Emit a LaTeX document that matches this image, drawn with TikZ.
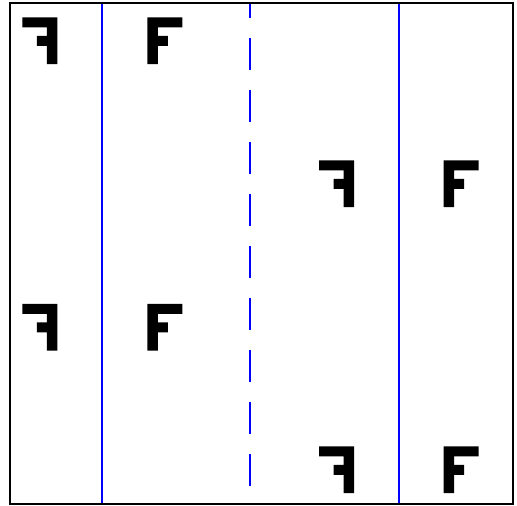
\documentclass[tikz,border=0pt]{standalone}
\tikzset{
  glyphF/.pic={
    \fill[black] (0,0) -- (35,0) -- (35,10) -- (10.5,10) -- (10.5,18.5) -- (20.5,18.5)
      -- (20.5,28.5) -- (10.5,28.5) -- (10.5,46.7) -- (0,46.7) -- cycle;
  },
  mirrorF/.pic={
    \begin{scope}[xshift=35, xscale=-1]
      \fill[black] (0,0) -- (35,0) -- (35,10) -- (10.5,10) -- (10.5,18.5) -- (20.5,18.5)
        -- (20.5,28.5) -- (10.5,28.5) -- (10.5,46.7) -- (0,46.7) -- cycle;
    \end{scope}
  },
  axisline/.style={blue, line width=2pt},
  glideline/.style={blue, line width=2pt, dash pattern=on 32pt off 20pt, dash phase=17pt},
  framebox/.style={draw=black, line width=2pt}
}
\begin{document}
\begin{tikzpicture}[x=1pt,y=-1pt]
  \useasboundingbox (0,0) rectangle (517,506);
  \fill[white] (0,0) rectangle (517,506);
  % axes
  \coordinate (a1t) at (102,2.5); \coordinate (a1b) at (102,504);
  \coordinate (g1t) at (250,2.5); \coordinate (g1b) at (250,504);
  \coordinate (a2t) at (399,2.5); \coordinate (a2b) at (399,504);
  \draw[axisline] (a1t) -- (a1b);
  \draw[glideline] (g1t) -- (g1b);
  \draw[axisline] (a2t) -- (a2b);
  % glyphs
  \pic at (22.3,17.3) {mirrorF};
  \pic at (147.3,17.3) {glyphF};
  \pic at (319,160.3) {mirrorF};
  \pic at (443.5,160.3) {glyphF};
  \pic at (22.3,303.8) {mirrorF};
  \pic at (147.3,303.8) {glyphF};
  \pic at (319,446.3) {mirrorF};
  \pic at (443.5,446.3) {glyphF};
  % frame
  \draw[framebox] (10,2.5) rectangle (513,504);
\end{tikzpicture}
\end{document}
